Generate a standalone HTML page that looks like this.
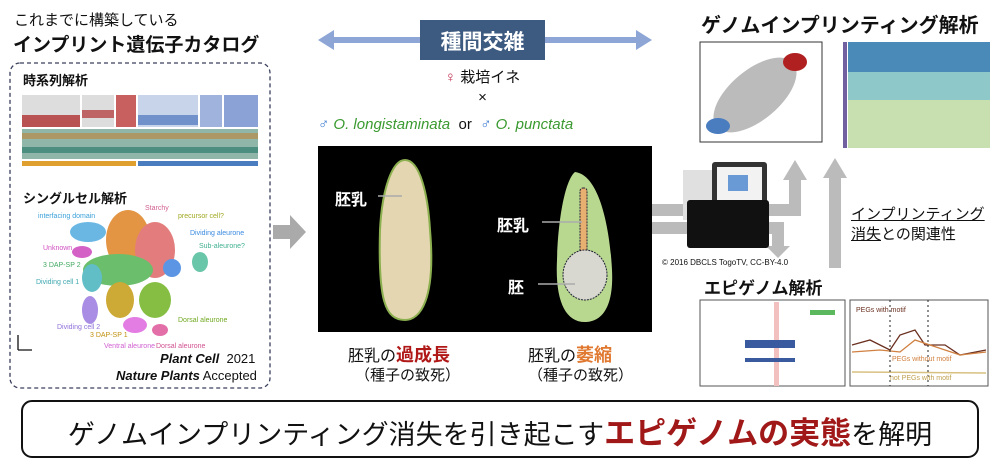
<!DOCTYPE html>
<html><head><meta charset="utf-8">
<style>
body{margin:0;background:#fff;}
#c{position:relative;width:1000px;height:471px;overflow:hidden;font-family:"Liberation Sans","Noto Sans CJK JP",sans-serif;color:#111;}
.t{position:absolute;white-space:nowrap;}
.b{font-weight:bold;}
</style></head><body><div id="c">
<svg width="1000" height="471" style="position:absolute;left:0;top:0">
<rect x="10" y="63" width="260" height="325" rx="10" fill="none" stroke="#3a3f5c" stroke-width="1.3" stroke-dasharray="4,3"/>
<g>
<rect x="22" y="95" width="58" height="32" fill="#ddd"/><rect x="22" y="115" width="58" height="12" fill="#b03030" opacity=".8"/>
<rect x="82" y="95" width="32" height="32" fill="#ddd"/><rect x="82" y="110" width="32" height="8" fill="#b03030" opacity=".7"/>
<rect x="116" y="95" width="20" height="32" fill="#c86060"/>
<rect x="138" y="95" width="60" height="32" fill="#c8d4ea"/><rect x="138" y="115" width="60" height="10" fill="#5a7fc0" opacity=".8"/>
<rect x="200" y="95" width="22" height="32" fill="#9fb3dd"/>
<rect x="224" y="95" width="34" height="32" fill="#8aa2d6"/>
<rect x="22" y="129" width="236" height="30" fill="#8fb6a8"/>
<rect x="22" y="133" width="236" height="6" fill="#b88a4a" opacity=".7"/>
<rect x="22" y="147" width="236" height="6" fill="#2f7f6f" opacity=".7"/>
<rect x="22" y="161" width="114" height="5" fill="#e0a030"/>
<rect x="138" y="161" width="120" height="5" fill="#4a7cc0"/>
</g>
<g opacity=".9">
<ellipse cx="128" cy="240" rx="22" ry="30" fill="#e08a30"/>
<ellipse cx="155" cy="250" rx="20" ry="28" fill="#e07070"/>
<ellipse cx="88" cy="232" rx="18" ry="10" fill="#5ab0e0"/>
<ellipse cx="82" cy="252" rx="10" ry="6" fill="#d050c0"/>
<ellipse cx="118" cy="270" rx="35" ry="16" fill="#5cb85c"/>
<ellipse cx="92" cy="278" rx="10" ry="14" fill="#50b8c0"/>
<ellipse cx="90" cy="310" rx="8" ry="14" fill="#a080e0"/>
<ellipse cx="120" cy="300" rx="14" ry="18" fill="#c8a020"/>
<ellipse cx="155" cy="300" rx="16" ry="18" fill="#7ab830"/>
<ellipse cx="135" cy="325" rx="12" ry="8" fill="#e070e0"/>
<ellipse cx="160" cy="330" rx="8" ry="6" fill="#e060a0"/>
<ellipse cx="172" cy="268" rx="9" ry="9" fill="#4a8ae0"/>
<ellipse cx="200" cy="262" rx="8" ry="10" fill="#5ac0a0"/>
</g>
<path d="M18 350 V335 M18 350 H32" stroke="#111" stroke-width="1.3" fill="none"/>
<polygon points="273,225 290,225 290,215 306,232 290,249 290,239 273,239" fill="#aaa"/>
<line x1="330" y1="40" x2="640" y2="40" stroke="#8ea6d6" stroke-width="6"/>
<polygon points="318,40 334,30 334,50" fill="#8ea6d6"/>
<polygon points="652,40 636,30 636,50" fill="#8ea6d6"/>
<rect x="420" y="20" width="125" height="40" fill="#3d5a80"/>
<rect x="318" y="146" width="334" height="186" fill="#000"/>
<path d="M405 160 C420 160 428 195 430 230 C436 300 420 320 405 320 C385 320 378 300 380 230 C382 190 392 160 405 160Z" fill="#e4d6b0" stroke="#8cb050" stroke-width="2"/>
<path d="M575 172 C600 175 610 230 612 270 C614 310 600 322 585 322 C565 322 555 300 557 260 C558 220 565 180 575 172Z" fill="#b8d890"/>
<rect x="580" y="188" width="7" height="70" rx="3" fill="#e8b070" stroke="#223" stroke-dasharray="2,1"/>
<ellipse cx="585" cy="275" rx="22" ry="25" fill="#d8d8d0" stroke="#223" stroke-dasharray="2,1"/>
<line x1="378" y1="196" x2="402" y2="196" stroke="#aaa" stroke-width="1.5"/>
<line x1="542" y1="222" x2="582" y2="222" stroke="#aaa" stroke-width="1.5"/>
<line x1="538" y1="284" x2="575" y2="284" stroke="#aaa" stroke-width="1.5"/>
<rect x="652" y="204" width="130" height="12" fill="#bbb"/>
<rect x="652" y="222" width="120" height="12" fill="#bbb"/>
<path d="M770 210 H795 V180" stroke="#bbb" stroke-width="12" fill="none"/>
<polygon points="783,180 807,180 795,160" fill="#bbb"/>
<polygon points="823,178 847,178 835,158" fill="#bbb"/>
<rect x="829" y="178" width="12" height="90" fill="#bbb"/>
<path d="M770 228 H778 V248" stroke="#bbb" stroke-width="12" fill="none"/>
<polygon points="766,246 790,246 778,258" fill="#bbb"/>
<rect x="683" y="170" width="52" height="50" fill="#e0e0e0"/>
<rect x="712" y="162" width="55" height="42" rx="3" fill="#333"/>
<rect x="717" y="167" width="45" height="33" fill="#f2f2f2"/>
<rect x="728" y="175" width="20" height="16" fill="#6a9ad6"/>
<rect x="687" y="200" width="82" height="48" rx="3" fill="#111"/>
<rect x="700" y="42" width="122" height="100" fill="#fff" stroke="#333"/>
<ellipse cx="755" cy="95" rx="50" ry="25" fill="#bbb" transform="rotate(-40 755 95)"/>
<ellipse cx="795" cy="62" rx="12" ry="9" fill="#b02020"/>
<ellipse cx="718" cy="126" rx="12" ry="8" fill="#4a7cc0"/>
<rect x="848" y="42" width="142" height="106" fill="#8ec8c8"/>
<rect x="848" y="42" width="142" height="30" fill="#4a8ab8"/>
<rect x="848" y="100" width="142" height="48" fill="#c8e0b0"/>
<rect x="843" y="42" width="4" height="106" fill="#7060a0"/>
<rect x="700" y="300" width="145" height="86" fill="#fff" stroke="#555"/>
<rect x="774" y="302" width="5" height="84" fill="#f3c0c0"/>
<rect x="745" y="340" width="50" height="8" fill="#3a5aa0"/>
<rect x="745" y="358" width="50" height="4" fill="#3a5aa0"/>
<rect x="810" y="310" width="25" height="5" fill="#5cb85c"/>
<rect x="850" y="300" width="138" height="86" fill="#fff" stroke="#555"/>
<polyline points="852,345 870,340 890,350 900,335 915,330 925,345 945,345 960,355 986,350" fill="none" stroke="#6a3020" stroke-width="1.3"/>
<polyline points="852,352 880,350 900,352 915,340 930,345 960,355 986,352" fill="none" stroke="#d08040" stroke-width="1.3"/>
<line x1="852" y1="372" x2="986" y2="373" stroke="#d8c080" stroke-width="1.5"/>
<line x1="890" y1="300" x2="890" y2="386" stroke="#222" stroke-dasharray="2,3"/>
<line x1="928" y1="300" x2="928" y2="386" stroke="#222" stroke-dasharray="2,3"/>
<rect x="22" y="401" width="956" height="56" rx="10" fill="#fff" stroke="#111" stroke-width="2"/>
</svg>

<div class="t" style="left:14px;top:9px;font-size:15px;">これまでに構築している</div>
<div class="t b" style="left:13px;top:30px;font-size:19px;">インプリント遺伝子カタログ</div>
<div class="t b" style="left:23px;top:70px;font-size:13px;">時系列解析</div>
<div class="t b" style="left:23px;top:188px;font-size:13px;">シングルセル解析</div>
<div class="t" style="left:38px;top:213px;font-size:7px;color:#3aa0d8">interfacing domain</div>
<div class="t" style="left:43px;top:245px;font-size:7px;color:#d050c0">Unknown</div>
<div class="t" style="left:43px;top:262px;font-size:7px;color:#40a860">3 DAP-SP 2</div>
<div class="t" style="left:36px;top:279px;font-size:7px;color:#40a8b0">Dividing cell 1</div>
<div class="t" style="left:57px;top:324px;font-size:7px;color:#9070d8">Dividing cell 2</div>
<div class="t" style="left:90px;top:332px;font-size:7px;color:#c09010">3 DAP-SP 1</div>
<div class="t" style="left:104px;top:343px;font-size:7px;color:#d060d0">Ventral aleurone</div>
<div class="t" style="left:156px;top:343px;font-size:7px;color:#d05090">Dorsal aleurone</div>
<div class="t" style="left:178px;top:317px;font-size:7px;color:#70a820">Dorsal aleurone</div>
<div class="t" style="left:145px;top:205px;font-size:7px;color:#d06090">Starchy</div>
<div class="t" style="left:178px;top:213px;font-size:7px;color:#a0a820">precursor cell?</div>
<div class="t" style="left:190px;top:230px;font-size:7px;color:#3a8ae0">Dividing aleurone</div>
<div class="t" style="left:199px;top:243px;font-size:7px;color:#40b090">Sub-aleurone?</div>
<div class="t" style="left:160px;top:351px;font-size:13px;"><b><i>Plant Cell</i></b>&nbsp; 2021</div>
<div class="t" style="left:116px;top:368px;font-size:13px;"><b><i>Nature Plants</i></b> Accepted</div>

<div class="t b" style="left:420px;top:26px;width:125px;text-align:center;font-size:21px;color:#fff;">種間交雑</div>
<div class="t" style="left:420px;top:66px;width:125px;text-align:center;font-size:15px;"><span style="color:#c03050">♀</span> 栽培イネ</div>
<div class="t" style="left:420px;top:89px;width:125px;text-align:center;font-size:15px;">×</div>
<div class="t" style="left:318px;top:116px;font-size:15px;color:#3a9a30;"><span style="color:#3a7ad0">♂</span> <i>O. longistaminata</i> <span style="color:#111">&nbsp;or&nbsp;</span> <span style="color:#3a7ad0">♂</span> <i>O. punctata</i></div>
<div class="t b" style="left:335px;top:186px;font-size:16px;color:#fff;">胚乳</div>
<div class="t b" style="left:497px;top:212px;font-size:16px;color:#fff;">胚乳</div>
<div class="t b" style="left:508px;top:274px;font-size:16px;color:#fff;">胚</div>
<div class="t" style="left:348px;top:341px;font-size:16px;">胚乳の<b style="color:#b01818;font-size:18px">過成長</b></div>
<div class="t" style="left:355px;top:364px;font-size:15px;">（種子の致死）</div>
<div class="t" style="left:528px;top:341px;font-size:16px;">胚乳の<b style="color:#e07830;font-size:18px">萎縮</b></div>
<div class="t" style="left:528px;top:364px;font-size:15px;">（種子の致死）</div>

<div class="t b" style="left:701px;top:9px;font-size:20px;">ゲノムインプリンティング解析</div>
<div class="t" style="left:851px;top:203px;font-size:15px;"><u>インプリンティング</u></div>
<div class="t" style="left:851px;top:223px;font-size:15px;"><u>消失</u>との関連性</div>
<div class="t" style="left:662px;top:258px;font-size:8px;">© 2016 DBCLS TogoTV, CC-BY-4.0</div>
<div class="t b" style="left:704px;top:274px;font-size:17px;">エピゲノム解析</div>
<div class="t" style="left:856px;top:307px;font-size:7px;color:#6a3020">PEGs with motif</div>
<div class="t" style="left:892px;top:356px;font-size:7px;color:#d08040">PEGs without motif</div>
<div class="t" style="left:890px;top:375px;font-size:7px;color:#c0a050">not PEGs with motif</div>

<div class="t" style="left:22px;top:408px;width:956px;text-align:center;font-size:27px;">ゲノムインプリンティング消失を引き起こす<b style="color:#a01818;font-size:31px">エピゲノムの実態</b>を解明</div>
</div></body></html>
